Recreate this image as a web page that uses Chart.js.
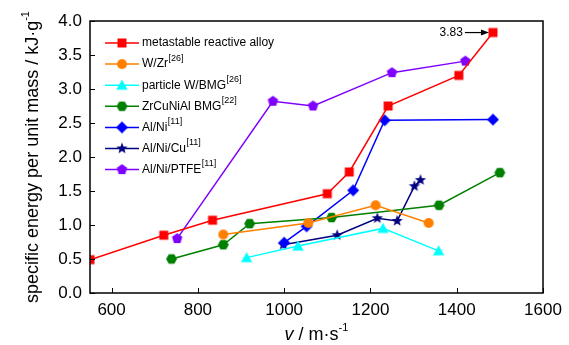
<!DOCTYPE html>
<html>
<head>
<meta charset="utf-8">
<script src="https://cdn.jsdelivr.net/npm/chart.js@4"></script>
<style>
  body { margin: 0; background: #fff; }
</style>
</head>
<body>
<canvas id="mychart" width="569" height="345"></canvas>
<script>
// values
var seriesNames = ["metastable reactive alloy", "W/Zr", "particle W/BMG", "ZrCuNiAl BMG", "Al/Ni", "Al/Ni/Cu", "Al/Ni/PTFE"];
var seriesRefs = ["", "[26]", "[26]", "[22]", "[11]", "[11]", "[11]"];

var alloyV = [550, 721, 834, 1100, 1151, 1241, 1405, 1484];
var alloyE = [0.49, 0.85, 1.07, 1.46, 1.78, 2.75, 3.20, 3.83];
var wzrV = [859, 1056, 1212, 1335];
var wzrE = [0.86, 1.03, 1.29, 1.03];
var wbmgV = [913, 1032, 1229, 1358];
var wbmgE = [0.52, 0.69, 0.95, 0.62];
var zrV = [739, 859, 920, 1110, 1359, 1500];
var zrE = [0.50, 0.71, 1.02, 1.11, 1.29, 1.77];
var alniV = [1000, 1052, 1160, 1233, 1484];
var alniE = [0.74, 0.98, 1.51, 2.54, 2.55];
var alnicuV = [998, 1123, 1216, 1262, 1302, 1316];
var alnicuE = [0.71, 0.85, 1.10, 1.06, 1.57, 1.66];
var ptfeV = [752, 974, 1067, 1250, 1420];
var ptfeE = [0.80, 2.82, 2.75, 3.24, 3.41];

var xTicks = [600, 800, 1000, 1200, 1400, 1600];
var yTicks = [0, 0.5, 1, 1.5, 2, 2.5, 3, 3.5, 4];
var peakLabel = "3.83";

var FONT = "'Liberation Sans', Arial, sans-serif";

// small canvases used as point styles (chart.js has no hexagon / filled star / pentagon)
function marker(shape, color, r) {
    var size = Math.ceil(2 * r + 2);
    var c = document.createElement("canvas");
    c.width = size; c.height = size;
    var g = c.getContext("2d");
    var m = size / 2;
    g.fillStyle = color;
    g.beginPath();
    if (shape == "circle") {
        g.arc(m, m, r, 0, Math.PI * 2);
    } else if (shape == "square") {
        var s = r * 0.9;
        g.rect(m - s, m - s, 2 * s, 2 * s);
    } else if (shape == "star") {
        for (var i = 0; i < 10; i++) {
            var rr = i % 2 == 0 ? r : r * 0.42;
            var a = -Math.PI / 2 + i * Math.PI / 5;
            g.lineTo(m + rr * Math.cos(a), m + rr * Math.sin(a));
        }
    } else {
        var n = { triangle: 3, diamond: 4, pentagon: 5, hexagon: 6 }[shape];
        var start = shape == "hexagon" ? 0 : -Math.PI / 2;
        var rad = shape == "triangle" ? r * 1.1 : r;
        var cy = shape == "triangle" ? m + r * 0.2 : m;
        for (var j = 0; j < n; j++) {
            var b = start + j * 2 * Math.PI / n;
            g.lineTo(m + rad * Math.cos(b), cy + rad * Math.sin(b));
        }
    }
    g.closePath();
    g.fill();
    return c;
}

var colors = ["#ff0000", "#ff8000", "#00ffff", "#008000", "#0000ff", "#000080", "#8000ff"];
var shapes = ["square", "circle", "triangle", "hexagon", "diamond", "star", "pentagon"];
var sizes = [5, 5, 6, 5.5, 6, 6, 5.5];
var markers = shapes.map(function(s, i) { return marker(s, colors[i], sizes[i]); });

function pts(xs, ys) {
    return xs.map(function(x, i) { return { x: x, y: ys[i] }; });
}
var allData = [
    pts(alloyV, alloyE), pts(wzrV, wzrE), pts(wbmgV, wbmgE), pts(zrV, zrE),
    pts(alniV, alniE), pts(alnicuV, alnicuE), pts(ptfeV, ptfeE)
];

var datasets = allData.map(function(d, i) {
    return {
        label: seriesNames[i],
        data: d,
        showLine: true,
        borderColor: colors[i],
        backgroundColor: colors[i],
        borderWidth: 1.5,
        pointStyle: markers[i],
        clip: 0
    };
});

// frame, inward ticks, axis titles, legend, annotation
var decorations = {
    id: "decorations",
    afterDraw: function(chart) {
        var ctx = chart.ctx;
        var a = chart.chartArea;
        var xs = chart.scales.x, ys = chart.scales.y;
        ctx.save();
        ctx.strokeStyle = "#000";
        ctx.lineWidth = 1.5;
        ctx.strokeRect(a.left, a.top, a.right - a.left, a.bottom - a.top);

        ctx.lineWidth = 1;
        ctx.beginPath();
        xs.ticks.forEach(function(t) {
            var px = Math.round(xs.getPixelForValue(t.value)) + 0.5;
            ctx.moveTo(px, a.bottom); ctx.lineTo(px, a.bottom - 5);
        });
        ys.ticks.forEach(function(t) {
            var py = Math.round(ys.getPixelForValue(t.value)) + 0.5;
            ctx.moveTo(a.left, py); ctx.lineTo(a.left + 5, py);
        });
        ctx.stroke();

        // y title
        ctx.fillStyle = "#000";
        ctx.textBaseline = "alphabetic";
        ctx.save();
        ctx.translate(38, (a.top + a.bottom) / 2);
        ctx.rotate(-Math.PI / 2);
        ctx.font = "18px " + FONT;
        var main = "specific energy per unit mass / kJ\u00b7g";
        var wMain = ctx.measureText(main).width;
        ctx.font = "11px " + FONT;
        var wSup = ctx.measureText("-1").width;
        var x0 = -(wMain + wSup) / 2;
        ctx.font = "18px " + FONT;
        ctx.textAlign = "left";
        ctx.fillText(main, x0, 0);
        ctx.font = "11px " + FONT;
        ctx.fillText("-1", x0 + wMain, -9);
        ctx.restore();

        // x title
        var xc = (a.left + a.right) / 2;
        ctx.font = "italic 18px " + FONT;
        var wv = ctx.measureText("v").width;
        ctx.font = "18px " + FONT;
        var rest = " / m\u00b7s";
        var wr = ctx.measureText(rest).width;
        ctx.font = "11px " + FONT;
        var ws = ctx.measureText("-1").width;
        var sx = xc - (wv + wr + ws) / 2;
        var by = 340;
        ctx.textAlign = "left";
        ctx.font = "italic 18px " + FONT;
        ctx.fillText("v", sx, by);
        ctx.font = "18px " + FONT;
        ctx.fillText(rest, sx + wv, by);
        ctx.font = "11px " + FONT;
        ctx.fillText("-1", sx + wv + wr, by - 9);

        // legend
        chart.data.datasets.forEach(function(ds, i) {
            var ly = 43 + i * 21.1;
            ctx.strokeStyle = ds.borderColor;
            ctx.lineWidth = 1.5;
            ctx.beginPath();
            ctx.moveTo(105, ly); ctx.lineTo(139, ly);
            ctx.stroke();
            var mk = markers[i];
            ctx.drawImage(mk, 122 - mk.width / 2, ly - mk.height / 2);
            ctx.fillStyle = "#000";
            ctx.font = "12px " + FONT;
            ctx.textBaseline = "middle";
            ctx.fillText(seriesNames[i], 142, ly);
            if (seriesRefs[i]) {
                var w = ctx.measureText(seriesNames[i]).width;
                ctx.font = "9px " + FONT;
                ctx.fillText(seriesRefs[i], 142 + w + 0.5, ly - 6);
            }
        });

        // annotation for the peak value
        var peak = allData[0][allData[0].length - 1];
        var px = xs.getPixelForValue(peak.x), py = ys.getPixelForValue(peak.y);
        ctx.strokeStyle = "#000";
        ctx.fillStyle = "#000";
        ctx.lineWidth = 1.2;
        ctx.beginPath();
        ctx.moveTo(px - 28, py); ctx.lineTo(px - 10, py);
        ctx.stroke();
        ctx.beginPath();
        ctx.moveTo(px - 4, py); ctx.lineTo(px - 12, py - 3); ctx.lineTo(px - 12, py + 3);
        ctx.closePath();
        ctx.fill();
        ctx.font = "12px " + FONT;
        ctx.textAlign = "right";
        ctx.textBaseline = "middle";
        ctx.fillText(peakLabel, px - 30, py);
        ctx.restore();
    }
};

window.addEventListener("load", function() {
    var canvas = document.getElementById("mychart").getContext("2d");
    new Chart(canvas, {
        type: "scatter",
        data: { datasets: datasets },
        options: {
            responsive: false,
            animation: false,
            layout: { padding: { top: 21, right: 26, left: 0, bottom: 0 }, autoPadding: false },
            plugins: { legend: { display: false }, tooltip: { enabled: false } },
            scales: {
                x: {
                    type: "linear",
                    min: 550,
                    max: 1600,
                    afterBuildTicks: function(s) { s.ticks = xTicks.map(function(v) { return { value: v }; }); },
                    afterFit: function(s) { s.height = 52; },
                    grid: { display: false, drawTicks: false },
                    border: { display: false },
                    ticks: {
                        color: "#000",
                        font: { family: FONT, size: 17 },
                        padding: 7,
                        maxRotation: 0,
                        callback: function(v) { return String(v); }
                    }
                },
                y: {
                    min: 0,
                    max: 4,
                    afterBuildTicks: function(s) { s.ticks = yTicks.map(function(v) { return { value: v }; }); },
                    afterFit: function(s) { s.width = 90; },
                    grid: { display: false, drawTicks: false },
                    border: { display: false },
                    ticks: {
                        color: "#000",
                        font: { family: FONT, size: 17 },
                        padding: 8,
                        callback: function(v) { return Number(v).toFixed(1); }
                    }
                }
            }
        },
        plugins: [decorations]
    });
});
</script>
</body>
</html>
